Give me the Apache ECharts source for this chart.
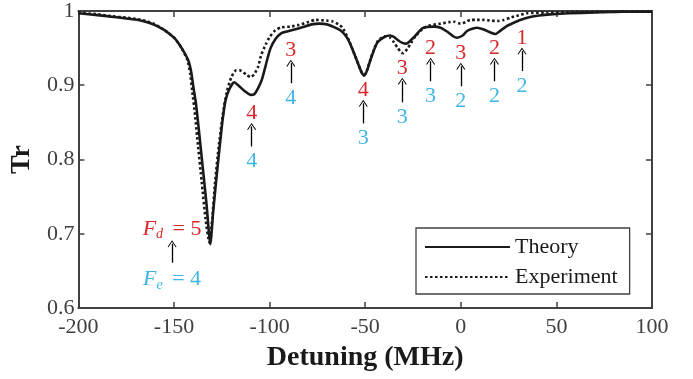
<!DOCTYPE html>
<html>
<head>
<meta charset="utf-8">
<script src="https://cdn.jsdelivr.net/npm/echarts@6/dist/echarts.min.js"></script>
<style>
  html, body { margin: 0; padding: 0; background: #fff; }
  #chart { width: 693px; height: 379px; }
</style>
</head>
<body>
<div id="chart"></div>
<script>
// detuning (MHz) and transmission
const theoryX = [-200, -190, -182.6, -175, -168.7, -164, -160, -154.8, -149.6, -146, -142.6, -141, -140, -138.5, -137, -135, -133, -131, -129.5, -128, -126, -124.5, -123, -121, -118.5, -116, -113, -110, -108, -106, -104, -102.5, -101, -99.5, -97, -94, -90, -87, -83, -78, -74, -70, -66, -63, -60, -57.5, -54, -52, -50.5, -49, -47, -45, -43.5, -40, -37, -35, -33, -30.5, -28.5, -26, -24, -20, -14, -10.6, -7, -4, -2, 1, 3.3, 6, 8.5, 12, 15.5, 18, 21, 24.2, 27.5, 31.1, 36.3, 41, 46.8, 57, 70, 85, 100]
const theoryY = [0.997, 0.9945, 0.9923, 0.99, 0.988, 0.985, 0.981, 0.974, 0.963, 0.95, 0.934, 0.918, 0.9, 0.875, 0.84, 0.79, 0.74, 0.686, 0.73, 0.77, 0.82, 0.855, 0.88, 0.895, 0.904, 0.899, 0.892, 0.887, 0.888, 0.896, 0.908, 0.922, 0.937, 0.95, 0.962, 0.97, 0.973, 0.975, 0.978, 0.982, 0.983, 0.982, 0.978, 0.974, 0.966, 0.954, 0.931, 0.918, 0.913, 0.92, 0.936, 0.95, 0.958, 0.965, 0.967, 0.965, 0.961, 0.957, 0.956, 0.961, 0.966, 0.977, 0.979, 0.9775, 0.972, 0.966, 0.964, 0.967, 0.973, 0.976, 0.9775, 0.975, 0.971, 0.969, 0.974, 0.98, 0.984, 0.988, 0.992, 0.994, 0.9955, 0.997, 0.998, 0.999, 0.999]

const exptX = [-200, -190, -182.6, -175, -168.7, -164, -160, -154.8, -149.6, -146, -143, -141.5, -140.5, -139, -137.5, -135.5, -133.5, -131.5, -130, -128.5, -126.5, -124.5, -122.5, -120, -117.5, -115.5, -112, -110, -108, -106, -104.5, -102, -100, -97, -94, -89, -85, -80, -76, -70, -67, -64, -62, -59.5, -57.5, -54, -52, -50.5, -49, -47, -45, -43.5, -40, -37, -35, -33, -31, -30, -28, -26, -24, -20, -17, -10.6, -6, -3.8, -0.2, 2.5, 5, 8, 12, 16, 19, 22.5, 25.9, 30, 34.6, 45, 60, 80, 100]
const exptY = [0.998, 0.9955, 0.993, 0.991, 0.989, 0.986, 0.982, 0.974, 0.963, 0.95, 0.934, 0.915, 0.893, 0.86, 0.82, 0.77, 0.72, 0.688, 0.72, 0.77, 0.82, 0.86, 0.89, 0.911, 0.92, 0.92, 0.914, 0.911, 0.915, 0.925, 0.94, 0.955, 0.965, 0.974, 0.978, 0.979, 0.981, 0.985, 0.988, 0.987, 0.986, 0.982, 0.978, 0.966, 0.954, 0.931, 0.918, 0.914, 0.921, 0.937, 0.951, 0.959, 0.966, 0.964, 0.958, 0.95, 0.944, 0.943, 0.949, 0.957, 0.965, 0.976, 0.98, 0.983, 0.985, 0.9856, 0.983, 0.985, 0.988, 0.988, 0.988, 0.987, 0.9865, 0.988, 0.991, 0.994, 0.9969, 0.998, 0.9985, 0.999, 0.9995]

// transition labels: ground Fd (red) -> excited Fe (blue)
const annX = [-151, -109.4, -88.9, -51, -30.6, -15.8, 0, 17.6, 32]
const annFd = ['5', '4', '3', '4', '3', '2', '3', '2', '1']
const annFe = ['4', '4', '4', '3', '3', '3', '2', '2', '2']
const arrowTip = [0.6865, 0.8446, 0.9297, 0.8757, 0.9054, 0.9324, 0.9257, 0.9324, 0.946]
const arrowBase = [0.661, 0.8176, 0.9027, 0.8486, 0.877, 0.9054, 0.8986, 0.9054, 0.919]

const red = '#d8272d'
const blue = '#3fb5e5'
const axisColor = '#404040'
const serif = 'Liberation Serif'

const myChart = echarts.init(document.getElementById('chart'))

const zip = (xs, ys) => xs.map((x, i) => [x, ys[i]])

function richLabel(letter, sub, val, color) {
	return {
		formatter: `{f|${letter}}{s|${sub}}{n| = ${val}}`,
		rich: {
			f: { fontFamily: serif, fontStyle: 'italic', fontSize: 22, color: color },
			s: { fontFamily: serif, fontStyle: 'italic', fontSize: 14, color: color, padding: [12, 4, 0, 0] },
			n: { fontFamily: serif, fontSize: 22, color: color }
		}
	}
}

const topLabels = annX.map((x, i) => {
	const item = { value: [x, arrowTip[i]] }
	if (i === 0) item.label = richLabel('F', 'd', annFd[i], red)
	return item
})
const bottomLabels = annX.map((x, i) => {
	const item = { value: [x, arrowBase[i]] }
	if (i === 0) item.label = richLabel('F', 'e', annFe[i], blue)
	return item
})

const hiddenAxis = {
	axisLine: { show: true, onZero: false, lineStyle: { color: axisColor, width: 2 } },
	axisTick: { show: true, inside: true, length: 6, lineStyle: { color: axisColor, width: 1.5 } },
	axisLabel: { show: false },
	splitLine: { show: false }
}

function labelSeries(name, data, texts, color, position, distance) {
	return {
		name: name,
		type: 'scatter',
		symbolSize: 2,
		silent: true,
		z: 5,
		itemStyle: { color: 'rgba(0,0,0,0)' },
		label: {
			show: true,
			position: position,
			distance: distance,
			opacity: 1,
			fontFamily: serif,
			fontSize: 22,
			color: color,
			formatter: (p) => texts[p.dataIndex]
		},
		data: data
	}
}

const option = {
	animation: false,
	grid: { left: 77, right: 41, top: 11, bottom: 71 },
	legend: {
		orient: 'vertical',
		left: 416,
		top: 228,
		padding: [8, 12, 6, 8],
		itemGap: 8,
		itemWidth: 85,
		itemHeight: 14,
		borderColor: axisColor,
		borderWidth: 1.3,
		backgroundColor: '#fff',
		itemStyle: { opacity: 0 },
		textStyle: { fontFamily: serif, fontSize: 22, color: '#1a1a1a' },
		data: ['Theory', 'Experiment']
	},
	xAxis: [
		{
			type: 'value',
			min: -200,
			max: 100,
			interval: 50,
			name: 'Detuning (MHz)',
			nameLocation: 'middle',
			nameGap: 36,
			nameTextStyle: { fontFamily: serif, fontWeight: 'bold', fontSize: 28, color: '#1a1a1a' },
			axisLine: { onZero: false, lineStyle: { color: axisColor, width: 2 } },
			axisTick: { inside: true, length: 6, lineStyle: { color: axisColor, width: 1.5 } },
			axisLabel: { fontFamily: serif, fontSize: 22, color: axisColor, margin: 8 },
			splitLine: { show: false }
		},
		Object.assign({ type: 'value', position: 'top', min: -200, max: 100, interval: 50 }, hiddenAxis)
	],
	yAxis: [
		{
			type: 'value',
			min: 0.6,
			max: 1,
			interval: 0.1,
			name: 'Tr',
			nameLocation: 'middle',
			nameRotate: 90,
			nameGap: 39,
			nameTextStyle: { fontFamily: serif, fontWeight: 'bold', fontSize: 28, color: '#1a1a1a' },
			axisLine: { show: true, onZero: false, lineStyle: { color: axisColor, width: 2 } },
			axisTick: { show: true, inside: true, length: 6, lineStyle: { color: axisColor, width: 1.5 } },
			axisLabel: { fontFamily: serif, fontSize: 22, color: axisColor, margin: 4 },
			splitLine: { show: false }
		},
		Object.assign({ type: 'value', position: 'right', min: 0.6, max: 1, interval: 0.1 }, hiddenAxis)
	],
	series: [
		{
			name: 'Theory',
			type: 'line',
			symbol: 'none',
			smooth: 0.2,
			z: 3,
			lineStyle: { color: '#1a1a1a', width: 2.6 },
			itemStyle: { color: '#1a1a1a' },
			data: zip(theoryX, theoryY)
		},
		{
			name: 'Experiment',
			type: 'line',
			symbol: 'none',
			smooth: 0.2,
			z: 2,
			lineStyle: { color: '#1a1a1a', width: 2.6, type: [2.5, 2.5] },
			itemStyle: { color: '#1a1a1a' },
			data: zip(exptX, exptY)
		},
		{
			name: 'arrows',
			type: 'line',
			data: [],
			markLine: {
				silent: true,
				animation: false,
				symbol: ['none', 'path://M0,10 L5,0 L10,10 L9,10.6 L5,2.4 L1,10.6 Z'],
				symbolSize: [9, 7],
				label: { show: false },
				lineStyle: { color: '#000', width: 1.3, type: 'solid' },
				data: annX.map((x, i) => [{ coord: [x, arrowBase[i]] }, { coord: [x, arrowTip[i]] }])
			}
		},
		labelSeries('Fd', topLabels, annFd, red, 'top', 1),
		labelSeries('Fe', bottomLabels, annFe, blue, 'bottom', 3)
	]
}

myChart.setOption(option)
</script>
</body>
</html>
